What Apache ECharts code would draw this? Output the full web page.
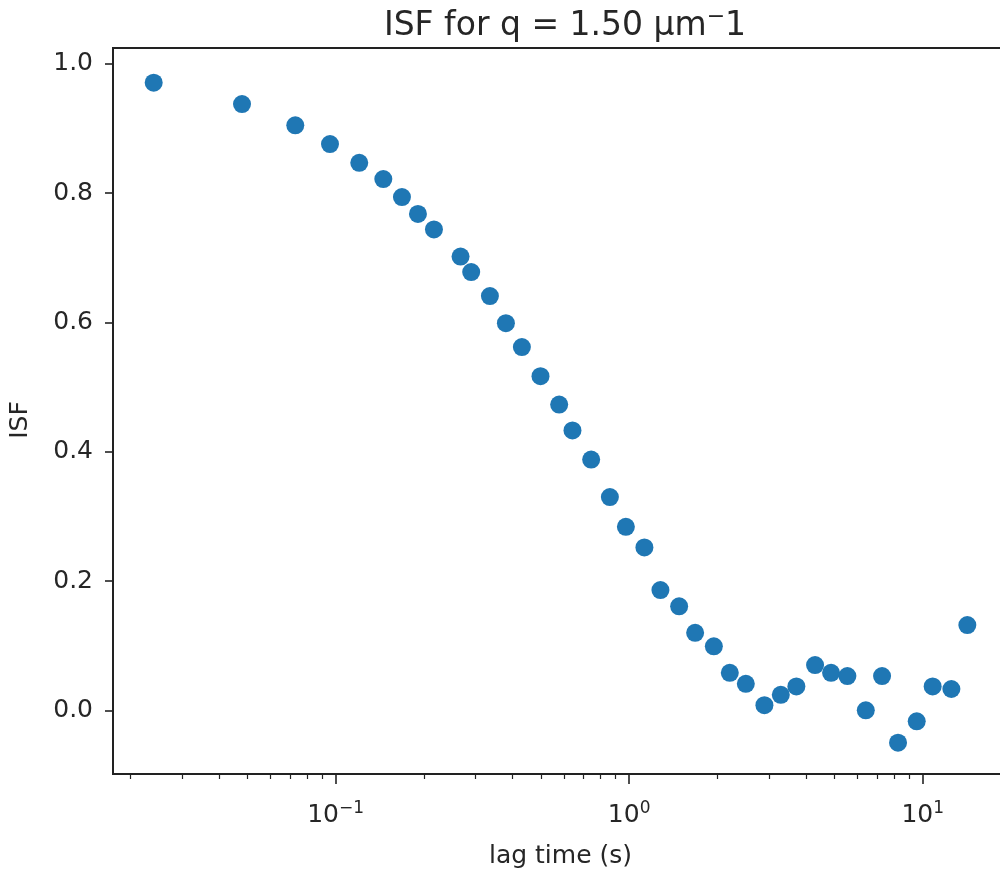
<!DOCTYPE html>
<html>
<head>
<meta charset="utf-8">
<script src="https://cdn.jsdelivr.net/npm/echarts@6/dist/echarts.min.js"></script>
<style>
  html, body { margin: 0; padding: 0; background: #fff; }
  #chart { width: 1000px; height: 872px; }
</style>
</head>
<body>
<div id="chart"></div>
<script>
// Lag times (s) and ISF values
const lagTimes = [
  0.02401, 0.04800, 0.07291, 0.09570, 0.1204, 0.1454, 0.1683, 0.1908, 0.2163, 0.2665,
  0.2897, 0.3355, 0.3803, 0.4311, 0.4989, 0.5776, 0.6411, 0.7423, 0.8597, 0.9745,
  1.127, 1.278, 1.480, 1.678, 1.943, 2.202, 2.497, 2.889, 3.285, 3.712,
  4.298, 4.873, 5.538, 6.398, 7.269, 8.239, 9.541, 10.81, 12.52, 14.19
];
const isfValues = [
  0.971, 0.938, 0.905, 0.876, 0.847, 0.822, 0.794, 0.768, 0.744, 0.702,
  0.678, 0.641, 0.599, 0.562, 0.517, 0.473, 0.433, 0.388, 0.330, 0.284,
  0.252, 0.186, 0.161, 0.120, 0.099, 0.058, 0.041, 0.008, 0.024, 0.037,
  0.070, 0.058, 0.053, 0.000, 0.053, -0.050, -0.017, 0.037, 0.033, 0.132
];
const xMajorTicks = [0.1, 1, 10];
const xMajorLabels = ['10|−1', '10|0', '10|1'];
const xMinorTicks = [0.02, 0.03, 0.04, 0.05, 0.06, 0.07, 0.08, 0.09,
                     0.2, 0.3, 0.4, 0.5, 0.6, 0.7, 0.8, 0.9,
                     2, 3, 4, 5, 6, 7, 8, 9];
const yTicks = [0, 0.2, 0.4, 0.6, 0.8, 1.0];

const titleText = 'ISF for q = 1.50 μm';
const xName = 'lag time (s)';
const yName = 'ISF';

const points = lagTimes.map((t, i) => [t, isfValues[i]]);
const FONT = 'DejaVu Sans';
const TXT = '#262626';
const X_MIN = 0.01745, X_MAX = 19.52;
const Y_MIN = -0.0985, Y_MAX = 1.0247;

const chart = echarts.init(document.getElementById('chart'), null, { renderer: 'canvas' });
chart.setOption({
  animation: false,
  backgroundColor: '#fff',
  title: {
    text: '{a|' + titleText + '}{b|−}{a|1}',
    left: 560, top: 1, textAlign: 'center',
    textStyle: {
      fontWeight: 'normal',
      rich: {
        a: { fontFamily: FONT, fontSize: 33, fontWeight: 'normal', color: TXT, lineHeight: 40 },
        b: { fontFamily: FONT, fontSize: 22, fontWeight: 'normal', color: TXT, verticalAlign: 'top', lineHeight: 22 }
      }
    }
  },
  grid: {
    left: 113, top: 48, width: 895, bottom: 98,
    outerBoundsMode: 'none', containLabel: false,
    show: true, borderColor: '#222', borderWidth: 2, backgroundColor: 'transparent'
  },
  xAxis: [
    {
      type: 'log', logBase: 10, min: X_MIN, max: X_MAX, gridIndex: 0, position: 'bottom',
      name: xName, nameLocation: 'middle', nameGap: 70,
      nameTextStyle: { fontFamily: FONT, fontSize: 25, color: TXT },
      axisLine: { show: false, onZero: false },
      splitLine: { show: false },
      axisTick: { show: true, length: 10, customValues: xMajorTicks, lineStyle: { color: '#222', width: 1.6 } },
      axisLabel: {
        show: true, margin: 26, customValues: xMajorTicks,
        formatter: function (v) {
          const idx = xMajorTicks.findIndex(t => Math.abs(Math.log10(t) - Math.log10(v)) < 1e-6);
          if (idx < 0) return '';
          const parts = xMajorLabels[idx].split('|');
          return '{a|' + parts[0] + '}{b|' + parts[1] + '}';
        },
        rich: {
          a: { fontFamily: FONT, fontSize: 25, color: TXT, lineHeight: 30 },
          b: { fontFamily: FONT, fontSize: 17, color: TXT, verticalAlign: 'top', lineHeight: 17 }
        }
      }
    },
    {
      type: 'log', logBase: 10, min: X_MIN, max: X_MAX, gridIndex: 0, position: 'bottom',
      axisLine: { show: false, onZero: false },
      splitLine: { show: false },
      axisTick: { show: true, length: 5, customValues: xMinorTicks, lineStyle: { color: '#222', width: 1.2 } },
      axisLabel: { show: false }
    }
  ],
  yAxis: {
    type: 'value', min: Y_MIN, max: Y_MAX,
    name: yName, nameLocation: 'middle', nameGap: 80, nameRotate: 90,
    nameTextStyle: { fontFamily: FONT, fontSize: 25, color: TXT, padding: [0, 18, 0, 0] },
    axisLine: { show: false, onZero: false },
    splitLine: { show: false },
    axisTick: { show: true, length: 8, customValues: yTicks, lineStyle: { color: '#222', width: 1.6 } },
    axisLabel: {
      show: true, margin: 20, customValues: yTicks,
      fontFamily: FONT, fontSize: 25, color: TXT,
      formatter: v => v.toFixed(1)
    }
  },
  series: [{
    type: 'scatter',
    xAxisIndex: 0, yAxisIndex: 0,
    data: points,
    symbol: 'circle',
    symbolSize: 18,
    itemStyle: { color: '#1f77b4', opacity: 1 }
  }]
});
</script>
</body>
</html>
